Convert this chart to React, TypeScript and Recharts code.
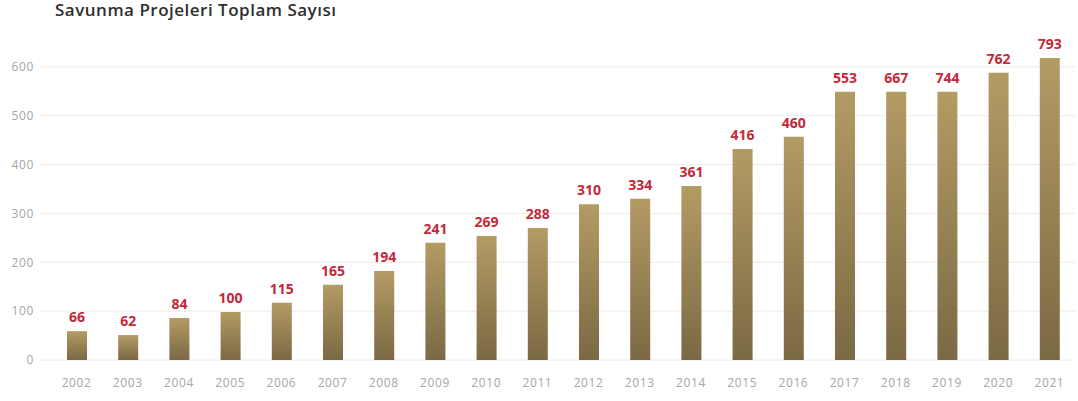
import { Bar, BarChart, CartesianGrid, LabelList, XAxis, YAxis } from "recharts";

const YEARS = [
  "2002", "2003", "2004", "2005", "2006", "2007", "2008", "2009", "2010", "2011",
  "2012", "2013", "2014", "2015", "2016", "2017", "2018", "2019", "2020", "2021",
];

// bar heights as drawn in the source graphic
const BAR_HEIGHTS = [
  59, 51, 86, 98, 117, 154, 182, 240, 254, 270,
  319, 330, 356, 432, 457, 549, 549, 549, 588, 618,
];

// value labels printed above the bars
const LABELS = [
  66, 62, 84, 100, 115, 165, 194, 241, 269, 288,
  310, 334, 361, 416, 460, 553, 667, 744, 762, 793,
];

const Y_TICKS = [0, 100, 200, 300, 400, 500, 600];

const data = YEARS.map((year, i) => ({ year, value: BAR_HEIGHTS[i], label: LABELS[i] }));

const renderLabel = (props: any) => {
  const { x, y, width, index } = props;
  return (
    <text
      x={x + width / 2}
      y={y - 9}
      textAnchor="middle"
      fill="#c4293a"
      fontSize={14}
      fontWeight={700}
      fontFamily="'Open Sans', sans-serif"
    >
      {LABELS[index]}
    </text>
  );
};

const tickStyle = {
  fill: "#a6a6a6",
  fontSize: 12,
  letterSpacing: 0.6,
  fontFamily: "'Open Sans', sans-serif",
};

export default function App() {
  return (
    <div style={{ position: "absolute", left: 0, top: 0, width: 1078, height: 401, background: "#fff" }}>
      <div
        style={{
          position: "absolute",
          left: 55,
          top: -2,
          fontFamily: "'Open Sans', sans-serif",
          fontSize: 17,
          fontWeight: 600,
          letterSpacing: 0.5,
          color: "#2e2e2e",
          whiteSpace: "nowrap",
        }}
      >
        Savunma Projeleri Toplam Sayısı
      </div>
      <BarChart width={1078} height={401} data={data} margin={{ top: 18, right: 3, bottom: 0, left: 0 }}>
        <defs>
          <linearGradient id="barFill" x1="0" y1="0" x2="0" y2="1">
            <stop offset="0%" stopColor="#b39b64" />
            <stop offset="100%" stopColor="#7b6944" />
          </linearGradient>
        </defs>
        <CartesianGrid vertical={false} stroke="#f4e8e8" syncWithTicks />
        <XAxis
          dataKey="year"
          axisLine={false}
          tickLine={false}
          tickSize={0}
          tickMargin={18}
          height={41}
          padding={{ left: 11, right: 0 }}
          interval={0}
          tick={tickStyle}
        />
        <YAxis
          domain={[0, 700]}
          ticks={Y_TICKS}
          axisLine={false}
          tickLine={false}
          tickSize={0}
          tickMargin={6}
          width={40}
          tick={tickStyle}
        />
        <Bar dataKey="value" fill="url(#barFill)" barSize={20} isAnimationActive={false}>
          <LabelList dataKey="label" content={renderLabel} />
        </Bar>
      </BarChart>
    </div>
  );
}
